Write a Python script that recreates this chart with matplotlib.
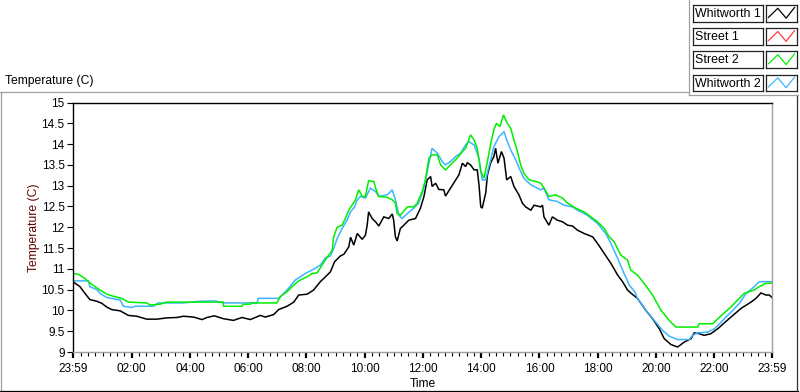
import matplotlib
matplotlib.use('Agg')
import matplotlib.pyplot as plt
from matplotlib.lines import Line2D
from matplotlib.ticker import FixedLocator, FixedFormatter

plt.rcParams['font.family'] = ['Liberation Sans', 'DejaVu Sans']

# ---------------- data (hours since 23:59 start, temperature in C) ----------------
series_names = ['Whitworth 1', 'Street 1', 'Street 2', 'Whitworth 2']
series_colors = ['#000000', '#ff3c3c', '#00ee00', '#3cb4ff']

whitworth1_hours = [0.0, 0.24, 0.41, 0.58, 0.82, 0.99, 1.16, 1.33, 1.62, 1.90, 2.19, 2.53, 2.88,
                    3.22, 3.57, 3.79, 4.14, 4.43, 4.60, 4.85, 5.17, 5.51, 5.80, 6.09, 6.43, 6.60,
                    6.89, 7.06, 7.35, 7.58, 7.75, 8.04, 8.26, 8.49, 8.67, 8.84, 8.98, 9.18, 9.30,
                    9.47, 9.53, 9.64, 9.76, 9.93, 10.04, 10.10, 10.15, 10.27, 10.39, 10.50, 10.67,
                    10.84, 10.96, 11.01, 11.07, 11.13, 11.24, 11.36, 11.53, 11.76, 11.93, 12.05,
                    12.16, 12.28, 12.33, 12.45, 12.56, 12.73, 12.79, 12.96, 13.14, 13.25, 13.37,
                    13.48, 13.54, 13.65, 13.77, 13.88, 13.94, 14.00, 14.05, 14.17, 14.23, 14.34,
                    14.45, 14.51, 14.59, 14.71, 14.80, 14.89, 15.03, 15.14, 15.31, 15.43, 15.54,
                    15.72, 15.83, 16.06, 16.12, 16.17, 16.34, 16.46, 16.63, 16.81, 16.98, 17.15,
                    17.32, 17.55, 17.84, 18.01, 18.24, 18.47, 18.70, 18.87, 19.04, 19.15, 19.38,
                    19.67, 19.90, 20.13, 20.30, 20.53, 20.76, 20.99, 21.22, 21.33, 21.50, 21.67,
                    21.90, 22.14, 22.36, 22.59, 22.94, 23.28, 23.45, 23.62, 23.79, 23.91, 24.0]
whitworth1_temp = [10.69, 10.57, 10.41, 10.26, 10.22, 10.17, 10.08, 10.02, 9.99, 9.88, 9.86, 9.79, 9.79,
                   9.82, 9.83, 9.86, 9.84, 9.78, 9.83, 9.87, 9.80, 9.76, 9.83, 9.78, 9.88, 9.84,
                   9.90, 10.02, 10.10, 10.20, 10.37, 10.39, 10.49, 10.69, 10.81, 10.93, 11.17, 11.31, 11.35,
                   11.53, 11.76, 11.57, 11.85, 11.71, 11.81, 12.05, 12.37, 12.21, 12.13, 12.03, 12.25,
                   12.21, 12.32, 12.17, 11.77, 11.67, 11.97, 12.05, 12.17, 12.21, 12.46, 12.74,
                   13.14, 13.22, 12.98, 13.06, 12.91, 12.90, 12.75, 12.94, 13.14, 13.26, 13.54,
                   13.46, 13.55, 13.50, 13.38, 13.38, 13.02, 12.49, 12.46, 12.82, 13.26, 13.55,
                   13.70, 13.90, 13.54, 13.82, 13.66, 13.14, 13.22, 12.98, 12.78, 12.58, 12.49,
                   12.41, 12.53, 12.49, 12.53, 12.25, 12.05, 12.25, 12.17, 12.13, 12.05, 12.03,
                   11.93, 11.85, 11.77, 11.61, 11.37, 11.13, 10.85, 10.69, 10.49, 10.42, 10.29,
                   10.00, 9.80, 9.56, 9.32, 9.18, 9.12, 9.24, 9.32, 9.46, 9.44, 9.40,
                   9.44, 9.56, 9.70, 9.84, 10.05, 10.20, 10.29, 10.42, 10.37, 10.37, 10.31]

street1_hours = []
street1_temp = []

street2_hours = [0.0, 0.18, 0.41, 0.53, 0.76, 0.93, 1.16, 1.39, 1.67, 1.90, 2.53, 2.65, 2.99, 3.22,
                 5.16, 5.17, 5.80, 5.85, 6.09, 6.16, 7.00, 7.12, 7.35, 7.58, 7.75, 8.04, 8.21, 8.38,
                 8.55, 8.72, 8.90, 8.95, 9.07, 9.24, 9.35, 9.47, 9.58, 9.70, 9.81, 9.93, 10.04,
                 10.15, 10.33, 10.39, 10.50, 10.79, 10.96, 11.07, 11.13, 11.24, 11.48, 11.70, 11.82,
                 11.99, 12.10, 12.22, 12.33, 12.51, 12.62, 12.79, 12.96, 13.19, 13.37, 13.48, 13.65,
                 13.77, 13.88, 14.00, 14.11, 14.23, 14.34, 14.45, 14.54, 14.66, 14.78, 14.91, 15.03,
                 15.14, 15.26, 15.37, 15.48, 15.66, 15.89, 16.06, 16.17, 16.34, 16.57, 16.81, 16.98,
                 17.26, 17.55, 17.78, 18.01, 18.24, 18.41, 18.58, 18.81, 19.04, 19.15, 19.38, 19.61,
                 19.90, 20.19, 20.47, 20.70, 21.45, 21.50, 21.96, 22.14, 22.36, 22.59, 22.82, 23.05,
                 23.39, 23.56, 23.79, 24.0]
street2_temp = [10.89, 10.87, 10.77, 10.69, 10.57, 10.49, 10.39, 10.34, 10.29, 10.20, 10.18, 10.13, 10.15, 10.20,
                10.20, 10.10, 10.10, 10.15, 10.15, 10.18, 10.18, 10.33, 10.45, 10.61, 10.71, 10.81, 10.89, 10.90,
                11.09, 11.27, 11.45, 11.77, 12.00, 12.05, 12.21, 12.41, 12.53, 12.66, 12.90, 12.74, 12.74,
                13.12, 13.10, 12.94, 12.74, 12.72, 12.66, 12.58, 12.33, 12.29, 12.49, 12.49, 12.58,
                12.86, 13.14, 13.66, 13.74, 13.74, 13.50, 13.38, 13.50, 13.66, 13.82, 13.90, 14.22,
                14.10, 13.90, 13.34, 13.18, 13.58, 14.00, 14.34, 14.50, 14.42, 14.70, 14.50, 14.38,
                14.10, 13.82, 13.50, 13.30, 13.14, 13.10, 13.06, 12.94, 12.74, 12.78, 12.70, 12.58,
                12.46, 12.37, 12.25, 12.13, 11.97, 11.77, 11.65, 11.33, 11.21, 10.97, 10.85, 10.65,
                10.37, 10.00, 9.76, 9.60, 9.60, 9.68, 9.68, 9.80, 9.94, 10.08, 10.25, 10.41,
                10.49, 10.57, 10.65, 10.66]

whitworth2_hours = [0.0, 0.53, 0.58, 0.82, 0.93, 1.16, 1.62, 1.73, 2.02, 2.13, 2.76, 2.93, 3.79, 4.37,
                    4.85, 5.17, 6.32, 6.36, 7.06, 7.18, 7.40, 7.63, 7.81, 7.98, 8.26, 8.49, 8.67, 8.84,
                    8.95, 9.07, 9.24, 9.41, 9.53, 9.66, 9.76, 9.87, 10.04, 10.21, 10.39, 10.50, 10.79,
                    10.96, 11.07, 11.19, 11.30, 11.48, 11.70, 11.87, 12.05, 12.22, 12.33, 12.51, 12.68,
                    12.79, 12.96, 13.14, 13.31, 13.48, 13.59, 13.77, 13.94, 14.05, 14.17, 14.28, 14.34,
                    14.45, 14.63, 14.80, 14.91, 15.03, 15.20, 15.37, 15.48, 15.72, 16.06, 16.17, 16.34,
                    16.63, 16.86, 17.15, 17.32, 17.66, 18.01, 18.29, 18.47, 18.70, 18.92, 19.10, 19.29,
                    19.38, 19.67, 19.96, 20.24, 20.47, 20.76, 21.16, 21.27, 21.45, 21.79, 22.03, 22.20,
                    22.42, 22.65, 22.88, 23.11, 23.39, 23.56, 24.0]
whitworth2_temp = [10.71, 10.71, 10.57, 10.50, 10.41, 10.31, 10.25, 10.10, 10.07, 10.10, 10.10, 10.18, 10.18, 10.22,
                   10.23, 10.18, 10.18, 10.29, 10.29, 10.37, 10.53, 10.73, 10.81, 10.89, 10.99, 11.09, 11.27, 11.31,
                   11.49, 11.73, 11.97, 12.17, 12.37, 12.48, 12.66, 12.74, 12.70, 12.94, 12.86, 12.74, 12.78,
                   12.90, 12.66, 12.29, 12.21, 12.33, 12.46, 12.58, 12.94, 13.54, 13.90, 13.78, 13.58,
                   13.50, 13.58, 13.70, 13.78, 13.98, 14.06, 13.98, 13.66, 13.14, 13.14, 13.46, 13.62,
                   13.94, 14.18, 14.30, 14.06, 13.86, 13.62, 13.34, 13.18, 13.02, 12.90, 12.94, 12.66,
                   12.62, 12.53, 12.49, 12.41, 12.29, 12.09, 11.85, 11.61, 11.25, 10.89, 10.61, 10.45,
                   10.29, 10.00, 9.76, 9.52, 9.38, 9.30, 9.30, 9.40, 9.46, 9.48, 9.56, 9.68,
                   9.84, 10.00, 10.17, 10.41, 10.57, 10.69, 10.69]

x_tick_labels = ['23:59', '02:00', '04:00', '06:00', '08:00', '10:00', '12:00',
                 '14:00', '16:00', '18:00', '20:00', '22:00', '23:59']
y_ticks = [9, 9.5, 10, 10.5, 11, 11.5, 12, 12.5, 13, 13.5, 14, 14.5, 15]
title_text = 'Temperature (C)'
y_label = 'Temperature (C)'
x_label = 'Time'

# ---------------- figure ----------------
W, H = 800, 392
fig = plt.figure(figsize=(W / 100, H / 100), dpi=100)
fig.patch.set_facecolor('white')


def fx(px):
    return px / W


def fy(py):
    return 1 - py / H


ax = fig.add_axes([fx(73), fy(352), fx(772) - fx(73), fy(102.5) - fy(352)])

all_series = [(whitworth1_hours, whitworth1_temp), (street1_hours, street1_temp),
              (street2_hours, street2_temp), (whitworth2_hours, whitworth2_temp)]
draw_order = [1, 0, 3, 2]
for i in draw_order:
    hrs, tmp = all_series[i]
    ax.plot(hrs, tmp, color=series_colors[i], lw=1.1, solid_joinstyle='miter')

ax.set_xlim(0, 24)
ax.set_ylim(9, 15)


def label_to_hours(lbl, idx, n):
    if idx == 0:
        return 0.0
    if idx == n - 1:
        return 24.0
    hh, mm = lbl.split(':')
    return int(hh) + int(mm) / 60 + 1 / 60


x_major = [label_to_hours(l, i, len(x_tick_labels)) for i, l in enumerate(x_tick_labels)]
x_minor = [(15 * m + 1) / 60 for m in range(1, 96) if m % 8 != 0]
ax.xaxis.set_major_locator(FixedLocator(x_major))
ax.xaxis.set_major_formatter(FixedFormatter(x_tick_labels))
ax.xaxis.set_minor_locator(FixedLocator(x_minor))
ax.set_yticks(y_ticks)
ax.set_yticklabels(['%g' % v for v in y_ticks])

ax.tick_params(axis='x', which='major', direction='out', length=4.5, width=1.6,
               color='black', labelsize=8.5, pad=3.5)
ax.tick_params(axis='x', which='minor', direction='out', length=3, width=0.8, color='black')
ax.tick_params(axis='y', which='major', direction='out', length=4, width=0.8,
               color='black', labelsize=8.5, pad=2)

for side, col in [('top', '#000000'), ('left', '#000000'), ('right', '#a0a0a0'), ('bottom', '#a0a0a0')]:
    ax.spines[side].set_color(col)
    ax.spines[side].set_linewidth(1.0)

ax.set_xlabel(x_label, fontsize=8.7, labelpad=2)
ax.set_ylabel(y_label, fontsize=8.7, color='#600000', labelpad=1)

# title above graph
fig.text(fx(5), fy(81), title_text, fontsize=8.7, va='center', ha='left')

# outer frame lines
frame = [((0, 689), (92, 92), '#a0a0a0'),
         ((0.5, 0.5), (92, 392), '#a0a0a0'),
         ((0, 798), (390.5, 390.5), '#000000'),
         ((797, 797), (95, 391), '#303030'),
         ((689, 689), (0, 95), '#a0a0a0'),
         ((689, 798), (95, 95), '#a0a0a0')]
for xs, ys, col in frame:
    fig.add_artist(Line2D([fx(x) for x in xs], [fy(y) for y in ys], color=col, lw=0.9,
                          transform=fig.transFigure))

# legend rows
for i, name in enumerate(series_names):
    top = 5 + 23.2 * i
    bot = top + 16.5
    tax = fig.add_axes([fx(692.5), fy(bot), fx(763) - fx(692.5), fy(top) - fy(bot)])
    tax.set_xticks([]); tax.set_yticks([])
    for s in tax.spines.values():
        s.set_color('#202020'); s.set_linewidth(0.9)
    tax.text(0.03, 0.45, name, fontsize=8.9, va='center', ha='left', transform=tax.transAxes)
    sax = fig.add_axes([fx(766), fy(bot), fx(797) - fx(766), fy(top) - fy(bot)])
    sax.set_xticks([]); sax.set_yticks([])
    for s in sax.spines.values():
        s.set_color('#202020'); s.set_linewidth(0.9)
    sax.set_xlim(0, 1); sax.set_ylim(0, 1)
    sax.add_line(Line2D([0.08, 0.38, 0.65, 0.92], [0.25, 0.8, 0.2, 0.85],
                        color=series_colors[i], lw=0.9))

fig.savefig('out.png', dpi=100, facecolor='white')
